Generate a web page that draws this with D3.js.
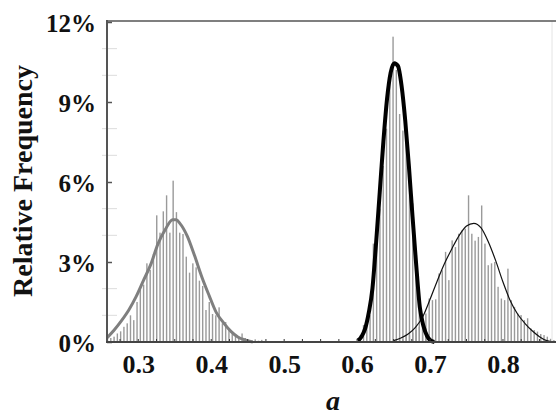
<!DOCTYPE html>
<html>
<head>
<meta charset="utf-8">
<script src="https://cdn.jsdelivr.net/npm/d3@7"></script>
<style>
  body { margin: 0; background: #fff; }
  text { font-family: "Liberation Serif", "Times New Roman", serif; font-weight: bold; }
</style>
</head>
<body>
<div id="chart"></div>
<script>
// histogram bins: center of bin k = binStart + k*binStep
var binStart = 0.2578;
var binStep = 0.0045;

// relative frequency (%) per bin
var leftFirstBin = 0;
var leftBars = [0.1, 0.15, 0.2, 0.32, 0.4, 0.57, 0.7, 1.0, 0.82, 1.5,
  1.95, 2.15, 2.95, 2.7, 3.3, 4.75, 4.1, 4.9, 5.5, 4.1,
  6.05, 4.87, 4.1, 4.05, 3.2, 2.6, 2.95, 2.8, 2.3, 2.1,
  1.2, 1.5, 1.05, 1.0, 1.3, 0.7, 0.75, 0.5, 0.32, 0.26,
  0.2, 0.32, 0.15, 0.07, 0.05, 0.1, 0.05, 0.08, 0.04];

var midFirstBin = 77;
var midBars = [0.26, 0.64, 0.6, 1.0, 3.69, 3.69, 5.0, 6.6, 8.0, 9.86,
  11.45, 10.2, 8.55, 7.93, 8.0, 6.3, 5.2, 3.4, 2.0, 1.0,
  0.5, 0.3, 0.1];

var rightFirstBin = 88;
var rightBars = [0.05, 0.1, 0.1, 0.2, 0.25, 0.35, 0.45, 0.57, 0.82, 1.07,
  1.63, 1.57, 1.6, 2.57, 2.69, 3.38, 2.32, 3.81, 3.56, 4.06,
  4.19, 4.25, 5.5, 4.06, 3.8, 3.94, 5.12, 3.69, 2.88, 2.95,
  3.0, 2.07, 1.63, 1.57, 2.75, 1.57, 1.32, 1.07, 1.01, 0.82,
  0.89, 0.51, 0.45, 0.39, 0.3, 0.26, 0.2, 0.12, 0.07];

// fitted curves
var leftCurveX = [0.257, 0.267, 0.277, 0.287, 0.297, 0.307, 0.317, 0.327, 0.337, 0.347, 0.352, 0.357, 0.367, 0.377, 0.387, 0.397, 0.407, 0.417, 0.427, 0.437, 0.447, 0.457];
var leftCurveY = [0.15, 0.45, 0.8, 1.2, 1.7, 2.3, 2.9, 3.68, 4.22, 4.58, 4.58, 4.45, 3.98, 3.25, 2.45, 1.75, 1.1, 0.72, 0.4, 0.18, 0.07, 0.0];

var midCurveX = [0.601, 0.606, 0.611, 0.616, 0.621, 0.626, 0.631, 0.636, 0.641, 0.646, 0.651, 0.656, 0.661, 0.666, 0.671, 0.676, 0.681, 0.686, 0.691, 0.696, 0.701, 0.706];
var midCurveY = [0.05, 0.2, 0.5, 1.1, 2.0, 3.7, 5.6, 7.5, 9.1, 10.1, 10.45, 10.35, 9.6, 8.3, 6.6, 4.7, 2.9, 1.3, 0.6, 0.22, 0.05, 0.0];

var rightCurveX = [0.65, 0.66, 0.67, 0.68, 0.69, 0.70, 0.71, 0.72, 0.73, 0.74, 0.75, 0.76, 0.77, 0.78, 0.79, 0.80, 0.81, 0.82, 0.83, 0.84, 0.85, 0.86, 0.87];
var rightCurveY = [0.05, 0.15, 0.3, 0.55, 0.95, 1.6, 2.3, 2.95, 3.5, 4.0, 4.35, 4.45, 4.28, 3.75, 3.05, 2.25, 1.55, 1.05, 0.7, 0.42, 0.2, 0.05, 0.0];

var xTicks = [0.3, 0.4, 0.5, 0.6, 0.7, 0.8];
var yTicks = [0, 3, 6, 9, 12];
var yMinorTicks = [1, 2, 4, 5, 7, 8, 10, 11];

var width = 556, height = 418;
var plotL = 107, plotR = 556, plotT = 22, plotB = 342;

var svg = d3.select("#chart").append("svg")
  .attr("width", width)
  .attr("height", height)
  .style("background", "#fff");

var x = d3.scaleLinear().domain([0.2571, 0.8727]).range([plotL, plotR]);
var y = d3.scaleLinear().domain([0, 12]).range([plotB, plotT]);

function drawBars(vals, firstBin) {
  svg.append("g").selectAll("rect")
    .data(vals)
    .enter().append("rect")
    .attr("x", function(d, i){ return x(binStart + (firstBin + i) * binStep) - 0.7; })
    .attr("width", 1.4)
    .attr("y", function(d){ return y(d); })
    .attr("height", function(d){ return y(0) - y(d); })
    .attr("fill", "#9a9a9a");
}

drawBars(leftBars, leftFirstBin);
drawBars(midBars, midFirstBin);
drawBars(rightBars, rightFirstBin);

function drawCurve(xs, ys, color, w) {
  var pts = xs.map(function(d, i){ return [d, ys[i]]; });
  var line = d3.line()
    .x(function(d){ return x(d[0]); })
    .y(function(d){ return y(d[1]); })
    .curve(d3.curveMonotoneX);
  svg.append("path")
    .attr("d", line(pts))
    .attr("fill", "none")
    .attr("stroke", color)
    .attr("stroke-width", w)
    .attr("stroke-linejoin", "round");
}

drawCurve(leftCurveX, leftCurveY, "#7f7f7f", 3);
drawCurve(rightCurveX, rightCurveY, "#111", 1.2);
drawCurve(midCurveX, midCurveY, "#000", 4);

// faint right border
svg.append("line")
  .attr("x1", 552).attr("x2", 552).attr("y1", 21).attr("y2", plotB)
  .attr("stroke", "#e4e4e4").attr("stroke-width", 1);

// minor y ticks (faint)
svg.append("g").selectAll("line")
  .data(yMinorTicks)
  .enter().append("line")
  .attr("x1", plotL - 5).attr("x2", plotL + 10)
  .attr("y1", function(d){ return y(d); })
  .attr("y2", function(d){ return y(d); })
  .attr("stroke", "#dcdcdc").attr("stroke-width", 1);

// y axis
var yAxis = d3.axisLeft(y)
  .tickValues(yTicks)
  .tickSize(-5)
  .tickPadding(11)
  .tickFormat(function(d){ return d + "%"; });

var gy = svg.append("g")
  .attr("transform", "translate(" + plotL + ",0)")
  .call(yAxis);
gy.select(".domain").remove();
gy.selectAll(".tick line").attr("stroke", "#555").attr("stroke-width", 1.5);
gy.selectAll(".tick text")
  .attr("fill", "#111")
  .attr("dy", "0.38em")
  .style("font-size", "25px")
  .style("font-family", '"Liberation Serif", "Times New Roman", serif')
  .style("font-weight", "bold");

// x axis
var xAxis = d3.axisBottom(x)
  .tickValues(xTicks)
  .tickSize(0)
  .tickPadding(15)
  .tickFormat(d3.format(".1f"));

var gx = svg.append("g")
  .attr("transform", "translate(0," + plotB + ")")
  .call(xAxis);
gx.select(".domain").remove();
gx.selectAll(".tick text")
  .attr("fill", "#111")
  .attr("dy", "0.6em")
  .style("font-size", "26px")
  .style("font-family", '"Liberation Serif", "Times New Roman", serif')
  .style("font-weight", "bold");

// small x ticks
svg.append("g").selectAll("line")
  .data(d3.range(0.275, 0.87, 0.025))
  .enter().append("line")
  .attr("x1", function(d){ return x(d); })
  .attr("x2", function(d){ return x(d); })
  .attr("y1", plotB).attr("y2", plotB - 3)
  .attr("stroke", "#333").attr("stroke-width", 1);

// frame lines
svg.append("line")
  .attr("x1", plotL).attr("x2", plotR).attr("y1", 21).attr("y2", 21)
  .attr("stroke", "#555").attr("stroke-width", 1.6);
svg.append("line")
  .attr("x1", plotL).attr("x2", plotL).attr("y1", 20).attr("y2", plotB + 1)
  .attr("stroke", "#555").attr("stroke-width", 2);
svg.append("line")
  .attr("x1", plotL - 1).attr("x2", plotR).attr("y1", plotB).attr("y2", plotB)
  .attr("stroke", "#444").attr("stroke-width", 2);

// axis titles
svg.append("text")
  .attr("transform", "translate(32,181) rotate(-90)")
  .attr("text-anchor", "middle")
  .style("font-size", "28px")
  .attr("fill", "#111")
  .text("Relative Frequency");

svg.append("text")
  .attr("x", 333).attr("y", 410)
  .attr("text-anchor", "middle")
  .style("font-size", "28px")
  .style("font-style", "italic")
  .attr("fill", "#111")
  .text("a");
</script>
</body>
</html>
